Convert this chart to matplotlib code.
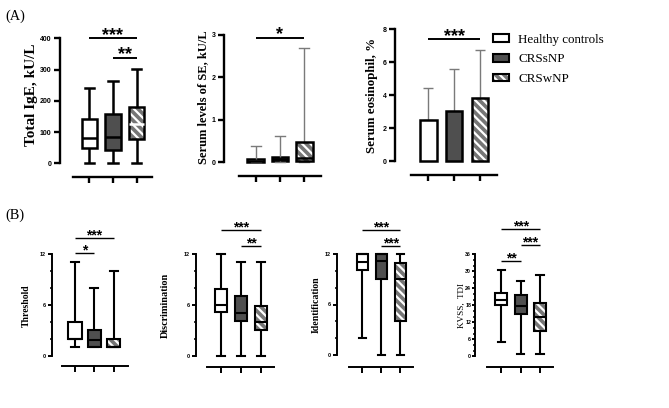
import matplotlib
matplotlib.use('Agg')
import matplotlib.pyplot as plt
from matplotlib.patches import Patch, PathPatch
from matplotlib.legend_handler import HandlerTuple

plt.rcParams['font.family'] = 'Liberation Sans'
plt.rcParams['font.weight'] = 'bold'
plt.rcParams['hatch.linewidth'] = 1.6

# groups and colours
groups = ['Healthy controls', 'CRSsNP', 'CRSwNP']
fills = ['white', '#4f4f4f', '#767676']
hatch = '\\\\\\\\'

# box stats: [low whisker, Q1, median, Q3, high whisker]
total_ige = [[0, 50, 80, 142, 241], [0, 43, 83, 158, 264], [0, 77, 126, 179, 302]]
serum_se = [[0, 0.0, 0.04, 0.08, 0.39], [0, 0.02, 0.07, 0.13, 0.62], [0, 0.02, 0.10, 0.49, 2.69]]
threshold = [[1, 2, 2, 4, 11], [1, 1.06, 1.9, 3, 8], [1, 1, 1, 2, 10]]
discrimination = [[0, 5.1, 6, 7.9, 12], [0, 4.06, 5, 7.1, 11], [0, 3.07, 4, 5.9, 11]]
identification = [[2, 10.1, 11.05, 12, 12], [0, 9, 11.2, 12, 12], [0, 4, 9.07, 10.95, 12]]
kvss_tdi = [[4.9, 18, 19.8, 22.2, 30.6], [0.9, 14.9, 17.6, 21.5, 26.7], [0.9, 9, 14, 18.7, 28.8]]

# eosinophil bars: mean and upper error
eos_mean = [2.49, 3.06, 3.81]
eos_err = [1.96, 2.54, 2.93]

# significance: (group i, group j, height, label)
ige_sig = [(1, 3, 400, '***'), (2, 3, 338, '**')]
se_sig = [(1, 3, 2.94, '*')]
eos_sig = [(1, 3, 7.39, '***')]
thr_sig = [(1, 3, 13.85, '***'), (1, 2, 12.08, '*')]
dis_sig = [(1, 3, 14.84, '***'), (2, 3, 12.98, '**')]
ide_sig = [(1, 3, 14.84, '***'), (2, 3, 12.98, '***')]
kvss_sig = [(1, 3, 44.9, '***'), (2, 3, 39.3, '***'), (1, 2, 33.6, '**')]

W, H = 669, 408
fig = plt.figure(figsize=(6.69, 4.08), dpi=100)


def make_ax(yax_x, box_px, line_x0, line_x1, line_y, zero_px, top_px, top, lw, ticklen, tsize, tpad=1.5):
    unit = (box_px[2] - box_px[0]) / 2
    xlo = 1 - (box_px[0] - yax_x) / unit
    xhi = 3 + (line_x1 - box_px[2]) / unit
    sb0 = 1 - (box_px[0] - line_x0) / unit
    pad = 2
    bot = zero_px + pad
    ax = fig.add_axes([yax_x / W, 1 - bot / H, (line_x1 - yax_x) / W, (bot - top_px) / H])
    vpp = top / (zero_px - top_px)
    ax.set_xlim(xlo, xhi)
    ax.set_ylim(-pad * vpp, top)
    ax.spines[['top', 'right']].set_visible(False)
    ax.spines['left'].set_bounds(0, top)
    ax.spines['bottom'].set_bounds(sb0, xhi)
    ax.spines['bottom'].set_position(('outward', (line_y - bot) * 0.72))
    for s in ('left', 'bottom'):
        ax.spines[s].set_linewidth(lw)
    ax.set_xticks([1, 2, 3])
    ax.set_xticklabels([])
    ax.tick_params(axis='x', length=4.5, width=lw)
    ax.tick_params(axis='y', which='major', length=ticklen, width=lw, labelsize=tsize, pad=tpad)
    ax.tick_params(axis='y', which='minor', length=ticklen * 0.6, width=lw * 0.8)
    ax.patch.set_visible(False)
    return ax


def draw_box(ax, data, width, lw, wcolor='k', wlw=None, hatched_median='k'):
    wlw = lw if wlw is None else wlw
    stats = [dict(whislo=d[0], q1=d[1], med=d[2], q3=d[3], whishi=d[4]) for d in data]
    bp = ax.bxp(stats, positions=[1, 2, 3], widths=width, capwidths=width * 0.6,
                patch_artist=True, showfliers=False, manage_ticks=False,
                boxprops=dict(linewidth=lw, edgecolor='k'),
                medianprops=dict(color='k', linewidth=lw, zorder=4),
                whiskerprops=dict(color=wcolor, linewidth=wlw, solid_capstyle='butt'),
                capprops=dict(color=wcolor, linewidth=wlw))
    for key in bp:
        for art in bp[key]:
            art.set_clip_on(False)
    for box, c in zip(bp['boxes'], fills):
        box.set_facecolor(c)
    hb = bp['boxes'][2]
    hb.set_edgecolor('white')
    hb.set_linewidth(0)
    hb.set_hatch(hatch)
    ax.add_patch(PathPatch(hb.get_path(), facecolor='none', edgecolor='k', lw=lw,
                           zorder=3, clip_on=False))
    bp['medians'][2].set_color(hatched_median)
    return bp


def draw_sig(ax, sigs, lw, fs, off):
    for i, j, y, label in sigs:
        ax.plot([i, j], [y, y], color='k', lw=lw, clip_on=False, solid_capstyle='butt')
        ax.annotate(label, xy=((i + j) / 2, y), xytext=(0, off), textcoords='offset points',
                    ha='center', va='baseline', fontsize=fs, fontweight='bold',
                    annotation_clip=False)


def ylabel(ax, text, x, y, size, weight='bold'):
    ax.set_ylabel(text, family='Liberation Serif', fontweight=weight, fontsize=size, va='center')
    ax.yaxis.set_label_coords(x / W, 1 - y / H, transform=fig.transFigure)


# ---- (A) ----
ax1 = make_ax(60, [89.3, 113.3, 136.7], 73.3, 151.7, 177.3, 163.3, 38.3, 400, 1.7, 4.5, 5)
draw_box(ax1, total_ige, 0.64, 1.8, hatched_median='white')
ax1.set_yticks([0, 100, 200, 300, 400])
draw_sig(ax1, ige_sig, 1.4, 13, -1)
ylabel(ax1, 'Total IgE, kU/L', 32, 95, 11)

ax2 = make_ax(223.7, [255.7, 279.7, 304.3], 239, 320.7, 175.7, 162.3, 35, 3, 1.7, 4.5, 5)
draw_box(ax2, serum_se, 0.68, 1.8, wcolor='#7a7a7a', wlw=1.0)
ax2.set_yticks([0, 1, 2, 3])
draw_sig(ax2, se_sig, 1.4, 13, -1)
ylabel(ax2, 'Serum levels of SE, kU/L', 203.3, 96.7, 9)

ax3 = make_ax(395, [428.3, 454, 480], 410.7, 497.3, 175, 161, 29.3, 8, 1.7, 4.5, 5)
pos = [1, 2, 3]
ax3.errorbar(pos, eos_mean, yerr=[[0, 0, 0], eos_err], fmt='none', ecolor='#7a7a7a',
             elinewidth=1.0, capsize=3.6, capthick=1.0, zorder=1)
bars = ax3.bar(pos, eos_mean, 0.64, color=fills, linewidth=0, zorder=2)
bars[2].set_edgecolor('white')
bars[2].set_hatch(hatch)
ax3.bar(pos, eos_mean, 0.64, fill=False, edgecolor='k', linewidth=1.8, zorder=3)
ax3.set_yticks([0, 2, 4, 6, 8])
draw_sig(ax3, eos_sig, 1.4, 13, -1)
ylabel(ax3, 'Serum eosinophil, %', 372.3, 95.8, 9.3)

handles = [Patch(facecolor=fills[0], edgecolor='k', lw=1.5),
           Patch(facecolor=fills[1], edgecolor='k', lw=1.5),
           (Patch(facecolor=fills[2], edgecolor='white', hatch=hatch, lw=0),
            Patch(facecolor='none', edgecolor='k', lw=1.5))]
fig.legend(handles, groups, handler_map={tuple: HandlerTuple(ndivide=1, pad=0)},
           loc='upper left', bbox_to_anchor=(493 / W, 1 - 33.5 / H), frameon=False,
           prop=dict(family='Liberation Serif', weight='normal', size=9.4),
           handlelength=1.2, handleheight=0.55, handletextpad=0.75, labelspacing=0.6,
           borderpad=0, borderaxespad=0)

# ---- (B) ----
bkw = dict(lw=1.4, ticklen=3.0, tsize=4)
ax4 = make_ax(51.7, [75, 94.8, 113.8], 62.3, 127.7, 365.7, 355.7, 254, 12, **bkw)
draw_box(ax4, threshold, 0.68, 1.5)
ax4.set_yticks([0, 6, 12])
ax4.set_yticks([2, 4, 8, 10], minor=True)
draw_sig(ax4, thr_sig, 1.0, 10, -1)
ylabel(ax4, 'Threshold', 26, 305.8, 6.9)

ax5 = make_ax(196, [221, 241, 261], 207.3, 274.3, 366.7, 355.7, 254, 12, **bkw)
draw_box(ax5, discrimination, 0.62, 1.5)
ax5.set_yticks([0, 6, 12])
ax5.set_yticks([2, 4, 8, 10], minor=True)
draw_sig(ax5, dis_sig, 1.0, 10, -1)
ylabel(ax5, 'Discrimination', 165, 305, 7.4)

ax6 = make_ax(336.7, [362.5, 381.2, 400.5], 349.3, 412.7, 366.7, 355, 254, 12, **bkw)
draw_box(ax6, identification, 0.62, 1.5)
ax6.set_yticks([0, 6, 12])
ax6.set_yticks([2, 4, 8, 10], minor=True)
draw_sig(ax6, ide_sig, 1.0, 10, -1)
ylabel(ax6, 'Identification', 316.7, 305, 7.1)

ax7 = make_ax(475, [501.2, 520.8, 540], 487.3, 553.3, 367.3, 356.3, 254.3, 36,
              lw=1.4, ticklen=2.2, tsize=3.8, tpad=0.6)
draw_box(ax7, kvss_tdi, 0.62, 1.5)
ax7.set_yticks(list(range(0, 37, 6)))
ax7.set_yticks(list(range(0, 37, 2)), minor=True)
draw_sig(ax7, kvss_sig, 1.0, 10, -1)
ylabel(ax7, 'KVSS,  TDI', 462, 305.8, 6.6, weight='normal')

fig.text(15 / W, 1 - 16 / H, '(A)', family='Liberation Serif', weight='normal',
         fontsize=10.4, ha='center', va='center')
fig.text(15 / W, 1 - 215 / H, '(B)', family='Liberation Serif', weight='normal',
         fontsize=10.4, ha='center', va='center')

fig.savefig('out.png', dpi=100)
